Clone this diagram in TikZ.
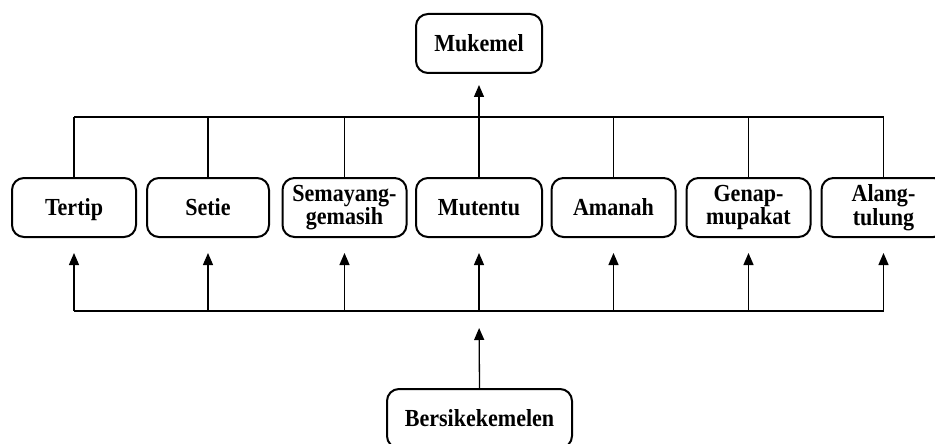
\documentclass[tikz,border=0pt]{standalone}
\usepackage{fontspec}
\setmainfont{Liberation Serif}[FakeStretch=0.9]
\usepackage{tikz}
\usetikzlibrary{arrows.meta}

\begin{document}
\begin{tikzpicture}[x=1pt,y=-1pt]
			\tikzstyle{every node}=[font=\bfseries\fontsize{24.5}{23.5}\selectfont]
			\tikzstyle{valuebox}=[draw, line width=2pt, rounded corners=12pt, minimum width=124pt, minimum height=59pt, inner sep=0pt, align=center]
			\tikzstyle{oneline}=[valuebox, text height=16pt, text depth=0pt]
			\tikzstyle{conn}=[line width=1.3pt]
			\tikzstyle{arr}=[conn, -{Triangle[width=10pt,length=12pt]}]
			\clip (0,0) rectangle (935,444);
			\node[oneline, minimum width=126pt] (mukemel) at (479,43.5) {Mukemel};
			\node[oneline] (tertip) at (74,207.5) {Tertip};
			\node[oneline, minimum width=122pt] (setie) at (208,207.5) {Setie};
			\node[valuebox] (semayang) at (344.5,207.5) {Semayang-\\gemasih};
			\node[oneline, minimum width=126pt] (mutentu) at (479,207.5) {Mutentu};
			\node[oneline] (amanah) at (613.5,207.5) {Amanah};
			\node[valuebox] (genap) at (748.5,207.5) {Genap-\\mupakat};
			\node[valuebox] (alang) at (883.5,207.5) {Alang-\\tulung};
			\node[oneline, minimum width=185pt] (bersik) at (479.5,418.5) {Bersikekemelen};
			\coordinate (topbus) at (479,117);
			\coordinate (botbus) at (479,311);
			\draw[conn] (tertip.north |- topbus) -- (alang.north |- topbus);
			\draw[conn] (tertip.south |- botbus) -- (alang.south |- botbus);
			\foreach \n in {tertip, setie, semayang, amanah, genap, alang}
				\draw[conn] (\n.north) -- (\n.north |- topbus);
			\foreach \n in {tertip, setie, semayang, mutentu, amanah, genap, alang}
				\draw[arr, shorten >=15pt] (\n.south |- botbus) -- (\n.south);
			\draw[arr, shorten >=11pt] (mutentu.north) -- (mukemel.south);
			\draw[arr, shorten >=17pt] (bersik.north) -- (botbus);
		\end{tikzpicture}
\end{document}
